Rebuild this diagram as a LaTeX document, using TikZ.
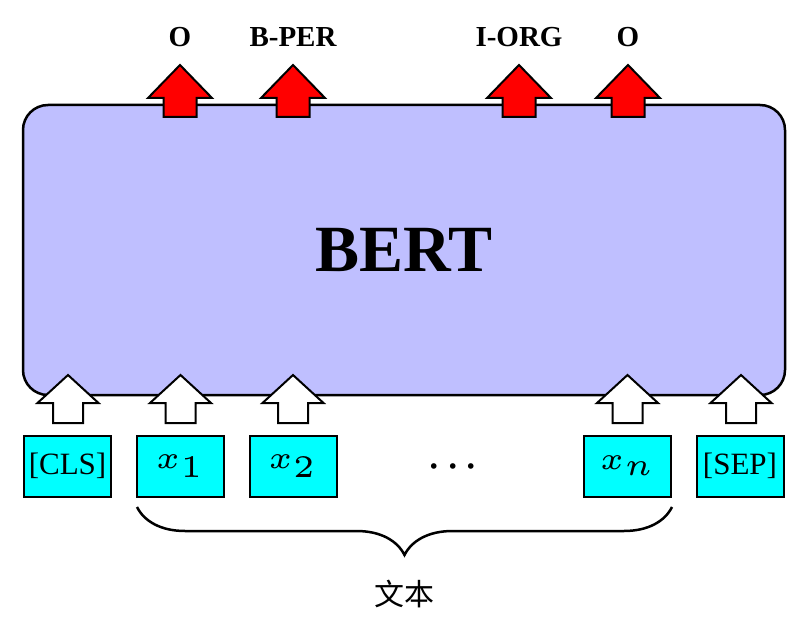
\documentclass[tikz,border=0pt]{standalone}
\usepackage{graphicx}
\usepackage{fontspec}
\setmainfont{Liberation Serif}
\newfontfamily\cjk{Noto Sans CJK SC}
\usetikzlibrary{decorations.pathreplacing}
\definecolor{bertfill}{RGB}{191,191,255}
\definecolor{tokfill}{RGB}{0,255,255}
\newcommand{\bigmath}[1]{\scalebox{6.3}{\fontsize{5}{6}\selectfont$#1$}}
\tikzset{
  bertbox/.style={draw=black, line width=2.5pt, fill=bertfill, rounded corners=25pt},
  tokbox/.style={draw=black, line width=2pt, fill=tokfill, minimum width=87pt, minimum height=61pt, inner sep=0pt, font=\fontsize{31}{31}\selectfont},
  tag/.style={font=\fontsize{29}{29}\selectfont\bfseries, inner sep=0pt},
  arrline/.style={draw=black, line width=2pt, line join=miter},
  redup/.pic={\path[arrline, fill=red] (0,0) -- (32,33) -- (16.5,33) -- (16.5,52) -- (-16.5,52) -- (-16.5,33) -- (-32,33) -- cycle;},
  whiteup/.pic={\path[arrline, fill=white] (0,0) -- (30.5,28) -- (15,28) -- (15,48) -- (-15,48) -- (-15,28) -- (-30.5,28) -- cycle;},
  bracestyle/.style={draw=black, line width=2.5pt, decorate, decoration={brace, amplitude=48pt, mirror, raise=0pt}},
}
\begin{document}
\begin{tikzpicture}[x=1pt, y=-1pt]
\useasboundingbox (0,0) rectangle (810,617);
% BERT block
\draw[bertbox] (23,105) rectangle (785,395);
\node (bert) at (404,250) {\fontsize{66}{66}\selectfont\bfseries BERT};
% output arrows
\pic at (180,65) {redup};
\pic at (293,65) {redup};
\pic at (519,65) {redup};
\pic at (628,65) {redup};
% output tags
\node[tag] (t1) at (180,37) {O};
\node[tag] (t2) at (293,37) {B-PER};
\node[tag] (t3) at (519,37) {I-ORG};
\node[tag] (t4) at (628,37) {O};
% input arrows
\pic at (68,375) {whiteup};
\pic at (180.5,375) {whiteup};
\pic at (293,375) {whiteup};
\pic at (627.5,375) {whiteup};
\pic at (741,375) {whiteup};
% tokens
\node[tokbox] (cls) at (67.5,466) {[CLS]};
\node[tokbox] (x1) at (180.5,466) {\bigmath{x_1}};
\node[tokbox] (x2) at (293,466) {\bigmath{x_2}};
\node[anchor=base, inner sep=0pt] (dots) at (453,475) {\scalebox{3.6}{\boldmath$\cdots$}};
\node[tokbox] (xn) at (627.5,466) {\bigmath{x_n}};
\node[tokbox] (sep) at (740,466) {[SEP]};
% brace
\coordinate (bl) at (137,507);
\coordinate (br) at (672,507);
\draw[bracestyle] (bl) -- (br);
\node (txt) at (404.5,594) {\cjk\fontsize{30}{30}\selectfont 文本};
\end{tikzpicture}
\end{document}
